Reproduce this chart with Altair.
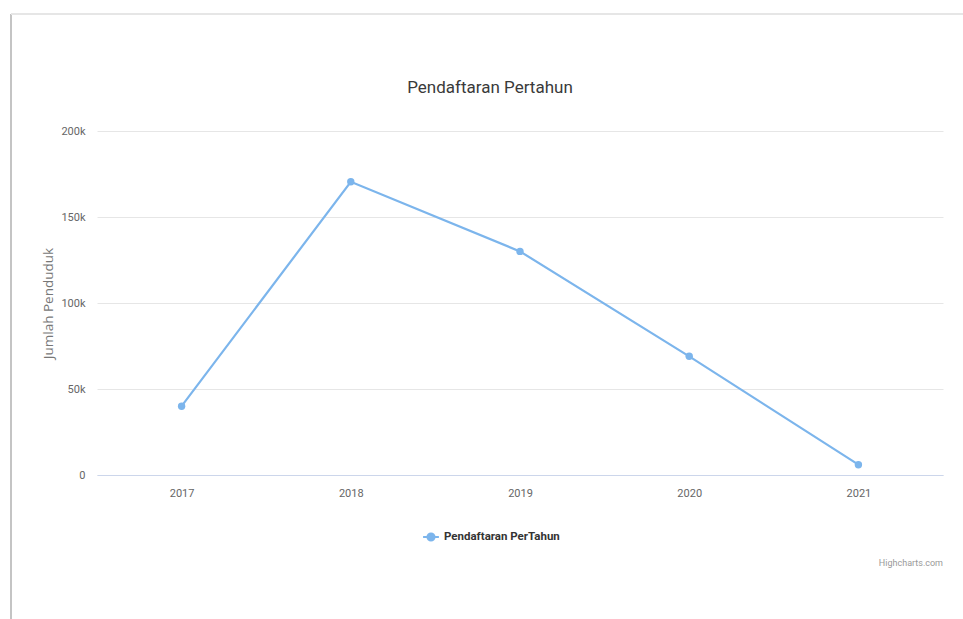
import altair as alt
import pandas as pd

years = ["2017", "2018", "2019", "2020", "2021"]
values = [40000, 170500, 130000, 69000, 6000]
series_name = "Pendaftaran PerTahun"
chart_title = "Pendaftaran Pertahun"
credit_text = "Highcharts.com"

df = pd.DataFrame({"Tahun": years, "Jumlah": values, "Seri": [series_name] * len(years)})

COND = "Roboto"
LINE_COLOR = "#7cb5ec"

color = alt.Color(
    "Seri:N",
    scale=alt.Scale(range=[LINE_COLOR]),
    legend=alt.Legend(
        title=None,
        orient="none",
        legendX=325,
        legendY=397,
        symbolType="M-1,0L1,0M-0.45,0A0.45,0.45,0,1,1,0.45,0A0.45,0.45,0,1,1,-0.45,0",
        symbolSize=250,
        symbolStrokeWidth=2,
        symbolStrokeColor=LINE_COLOR,
        symbolFillColor=LINE_COLOR,
        labelFont=COND,
        labelFontSize=11.5,
        labelFontWeight="bold",
        labelColor="#333333",
    ),
)

base = alt.Chart(df).encode(
    x=alt.X(
        "Tahun:N",
        sort=years,
        scale=alt.Scale(paddingInner=0, paddingOuter=0),
        axis=alt.Axis(
            title=None,
            labelAngle=0,
            labelFont=COND,
            labelFontSize=11,
            labelColor="#666666",
            labelPadding=12,
            ticks=False,
            domainColor="#ccd6eb",
            domainWidth=1,
            grid=False,
        ),
    ),
    y=alt.Y(
        "Jumlah:Q",
        scale=alt.Scale(domain=[0, 200000]),
        axis=alt.Axis(
            title="Jumlah Penduduk",
            titleFont="Open Sans",
            titleFontSize=13.5,
            titleFontWeight="normal",
            titleColor="#777777",
            titlePadding=5,
            values=[0, 50000, 100000, 150000, 200000],
            labelExpr="datum.value == 0 ? '0' : format(datum.value / 1000, 'd') + 'k'",
            labelFont=COND,
            labelFontSize=11,
            labelColor="#666666",
            labelPadding=12,
            ticks=False,
            domain=False,
            gridColor="#e6e6e6",
            gridWidth=1,
        ),
    ),
    color=color,
)

line = base.mark_line(strokeWidth=2.2)
points = base.mark_point(filled=True, size=55, opacity=1, shape="circle")

title_mark = alt.Chart(pd.DataFrame({"t": [chart_title]})).mark_text(
    align="center", baseline="middle", font=COND, fontSize=17, color="#3a3a3a"
).encode(x=alt.value(393), y=alt.value(-43), text="t:N")

credit = alt.Chart(pd.DataFrame({"t": [credit_text]})).mark_text(
    align="right", baseline="middle", font=COND, fontSize=9, color="#999999"
).encode(x=alt.value(846), y=alt.value(432), text="t:N")

frame_left = alt.Chart(pd.DataFrame({"a": [0]})).mark_rule(color="#c4c4c4", strokeWidth=2).encode(
    x=alt.value(-86), y=alt.value(-117), y2=alt.value(488)
)
frame_top = alt.Chart(pd.DataFrame({"a": [0]})).mark_rule(color="#e6e6e6", strokeWidth=2).encode(
    x=alt.value(-86), x2=alt.value(866), y=alt.value(-117)
)

chart = (
    alt.layer(frame_left, frame_top, line, points, title_mark, credit)
    .properties(
        width=846,
        height=344,
        padding={"left": 97, "top": 131, "right": 20, "bottom": 144},
        autosize=alt.AutoSizeParams(type="none"),
        background="white",
    )
    .configure_view(stroke=None)
)

chart.save("out.html", embed_options={"renderer": "svg", "actions": False})
